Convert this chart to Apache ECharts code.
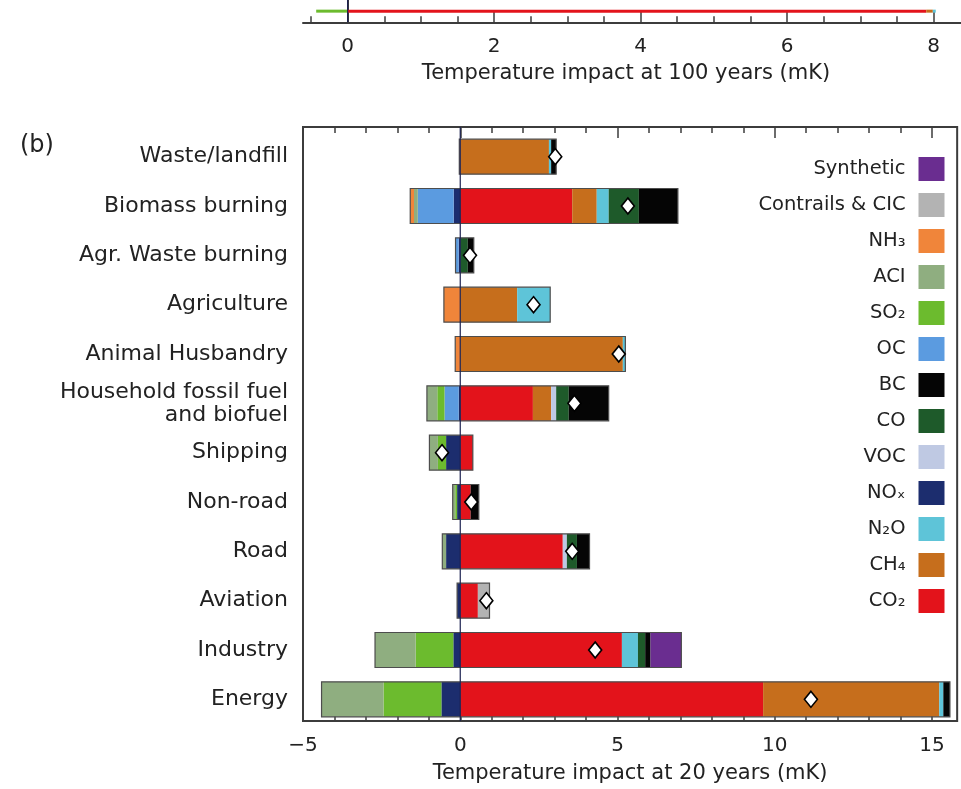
<!DOCTYPE html>
<html><head><meta charset="utf-8">
<script src="https://cdn.jsdelivr.net/npm/echarts@6/dist/echarts.min.js"></script>
<style>html,body{margin:0;padding:0;background:#fff}#c{width:961px;height:789px}</style>
</head><body><div id="c"></div>
<script>
// ---------- data ----------
const categories = ['Waste/landfill','Biomass burning','Agr. Waste burning','Agriculture','Animal Husbandry','Household fossil fuel\nand biofuel','Shipping','Non-road','Road','Aviation','Industry','Energy'];
// positive contributions (mK, 20-year)
const CO2       = [0, 3.56, 0, 0, 0, 2.31, 0.40, 0.33, 3.26, 0.56, 5.14, 9.63];
const CH4       = [2.82, 0.78, 0, 1.81, 5.17, 0.58, 0, 0, 0, 0, 0, 5.60];
const N2O       = [0.07, 0.38, 0, 1.05, 0.08, 0, 0, 0, 0, 0, 0.51, 0.13];
const VOC       = [0, 0, 0, 0, 0, 0.16, 0, 0, 0.13, 0, 0, 0];
const CO        = [0, 0.96, 0.24, 0, 0, 0.40, 0, 0, 0.32, 0, 0.23, 0];
const BC        = [0.16, 1.24, 0.19, 0, 0, 1.27, 0, 0.26, 0.40, 0, 0.17, 0.21];
const Contrails = [0, 0, 0, 0, 0, 0, 0, 0, 0, 0.37, 0, 0];
const Synthetic = [0, 0, 0, 0, 0, 0, 0, 0, 0, 0, 0.98, 0];
// negative contributions
const NOx = [0, -0.21, -0.05, 0, 0, -0.05, -0.45, -0.10, -0.45, -0.10, -0.22, -0.60];
const OC  = [0, -1.14, -0.10, 0, 0, -0.45, 0, 0, 0, 0, 0, 0];
const SO2 = [0, 0, 0, 0, 0, -0.23, -0.26, -0.06, 0, 0, -1.20, -1.84];
const ACI = [0, -0.12, 0, 0, 0, -0.33, -0.27, -0.08, -0.12, 0, -1.29, -1.97];
const NH3 = [-0.03, -0.12, 0, -0.52, -0.16, 0, 0, 0, 0, 0, 0, 0];
// net (diamonds)
const net20 = [3.02, 5.33, 0.31, 2.33, 5.04, 3.63, -0.58, 0.35, 3.56, 0.83, 4.29, 11.15];

// panel (a) remnant (100-year)
const panelACategories = ['Energy'];
const aSO2 = [-0.43], aCO2 = [7.90], aCH4 = [0.09], aN2O = [0.04];

// tick labels
const ticks20 = [-5, 0, 5, 10, 15];
const minor20 = [-4, -3, -2, -1, 1, 2, 3, 4, 6, 7, 8, 9, 11, 12, 13, 14];
const ticks100 = [0, 2, 4, 6, 8];
const minor100 = [-0.5, 0.5, 1, 1.5, 2.5, 3, 3.5, 4.5, 5, 5.5, 6.5, 7, 7.5];

const legendOrder = ['Synthetic','Contrails & CIC','NH₃','ACI','SO₂','OC','BC','CO','VOC','NOₓ','N₂O','CH₄','CO₂'];
const colors = {
  'CO₂':'#e3131b','CH₄':'#c66e1c','N₂O':'#5ec4d8','VOC':'#bfc9e3','CO':'#1e5a2a','BC':'#050505',
  'Contrails & CIC':'#b3b3b3','Synthetic':'#6a2d90','NOₓ':'#1c2d6e','OC':'#5b9be0','SO₂':'#6cbb2e',
  'ACI':'#8fae80','NH₃':'#f0853a'
};
// stacking order (outward from zero)
const stackSeries = [
  ['CO₂', CO2], ['CH₄', CH4], ['N₂O', N2O], ['VOC', VOC], ['CO', CO], ['BC', BC],
  ['Contrails & CIC', Contrails], ['Synthetic', Synthetic],
  ['NOₓ', NOx], ['OC', OC], ['SO₂', SO2], ['ACI', ACI], ['NH₃', NH3]
];

// ---------- chart ----------
const FONT = 'DejaVu Sans';
const TXT = '#222';
const chart = echarts.init(document.getElementById('c'), null, {renderer:'canvas'});

const negSum = categories.map((_, i) => stackSeries.reduce((s, d) => s + Math.min(0, d[1][i]), 0));
const posSum = categories.map((_, i) => stackSeries.reduce((s, d) => s + Math.max(0, d[1][i]), 0));

const series = [];
// panel (a) bars
[['SO₂', aSO2], ['CO₂', aCO2], ['CH₄', aCH4], ['N₂O', aN2O]].forEach(([n, d]) => {
  series.push({type:'bar', name:n, stack:'a', xAxisIndex:0, yAxisIndex:0, data:d, barWidth:3,
    itemStyle:{color:colors[n]}, silent:true, z:2});
});
// panel (a) zero line
series.push({type:'line', xAxisIndex:0, yAxisIndex:1, data:[[0,0],[0,1]], symbol:'none',
  lineStyle:{color:'#1a2050', width:1.2}, silent:true, z:10});
// panel (b) stacked bars
stackSeries.forEach(([n, d]) => {
  series.push({type:'bar', name:n, stack:'b', xAxisIndex:6, yAxisIndex:3, data:d, barWidth:35,
    itemStyle:{color:colors[n]}, silent:true, z:2});
});
// outline
series.push({type:'custom', xAxisIndex:6, yAxisIndex:3, silent:true, z:3,
  data: categories.map((_, i) => [i, negSum[i], posSum[i]]),
  encode:{x:[1,2], y:0},
  renderItem: function(params, api){
    const c = api.value(0);
    const p0 = api.coord([api.value(1), c]);
    const p1 = api.coord([api.value(2), c]);
    const h = 35;
    return {type:'rect', shape:{x:p0[0], y:p0[1]-h/2, width:p1[0]-p0[0], height:h},
      style:{fill:'none', stroke:'#4d4d4d', lineWidth:1.2}};
  }
});
// panel (b) zero line
series.push({type:'line', xAxisIndex:2, yAxisIndex:2, data:[[0,0],[0,1]], symbol:'none',
  lineStyle:{color:'#1a2050', width:1.2}, silent:true, z:10});
// net diamonds
series.push({type:'scatter', xAxisIndex:6, yAxisIndex:3, symbol:'diamond', symbolSize:[13,16],
  data: net20.map((v, i) => [v, i]),
  itemStyle:{color:'#fff', borderColor:'#000', borderWidth:1.6, opacity:1}, silent:true, z:12});

const A_UNIT = 74.35, A_LEFT = 303, A_W = 668;
const B_UNIT = 31.45, B_LEFT = 303, B_W = 20.8 * B_UNIT;

const option = {
  backgroundColor:'#fff',
  animation:false,
  textStyle:{fontFamily:FONT},
  graphic:[{type:'text', left:20, top:134, style:{text:'(b)', font:'24px "DejaVu Sans"', fill:TXT}}],
  legend:{
    data: legendOrder, orient:'vertical', right:11.5, top:152, itemWidth:26, itemHeight:24, itemGap:12,
    align:'right', icon:'rect', selectedMode:false,
    textStyle:{fontSize:19.5, color:TXT, fontFamily:FONT, padding:[0,8,0,0]}
  },
  grid:[
    {left:A_LEFT, top:0, width:A_W, height:22.3, show:false},
    {left:B_LEFT, top:127, width:B_W, height:601, show:true, borderColor:'#3c3c3c', borderWidth:2, backgroundColor:'transparent'},
    {left:B_LEFT, top:132, width:B_W, height:592, show:false}
  ],
  xAxis:[
    // 0: panel a main
    {type:'value', gridIndex:0, min:-0.61, max:-0.61 + A_W / A_UNIT, position:'bottom',
      axisLine:{show:true, lineStyle:{color:'#3c3c3c', width:2}},
      axisTick:{show:true, inside:true, length:11, customValues:ticks100, lineStyle:{color:'#3c3c3c', width:1.5}},
      axisLabel:{show:true, customValues:ticks100, fontSize:20, color:TXT, margin:14, fontFamily:FONT},
      splitLine:{show:false},
      name:'Temperature impact at 100 years (mK)', nameLocation:'middle', nameGap:41,
      nameTextStyle:{fontSize:21, color:TXT, fontFamily:FONT, padding:[0,12,0,0]}},
    // 1: panel a minor
    {type:'value', gridIndex:0, min:-0.61, max:-0.61 + A_W / A_UNIT, position:'bottom',
      axisLine:{show:false}, axisLabel:{show:false}, splitLine:{show:false},
      axisTick:{show:true, inside:true, length:6, customValues:minor100, lineStyle:{color:'#3c3c3c', width:1.5}}},
    // 2: panel b main bottom
    {type:'value', gridIndex:1, min:-5, max:15.8, position:'bottom',
      axisLine:{show:false},
      axisTick:{show:true, inside:true, length:11, customValues:ticks20, lineStyle:{color:'#3c3c3c', width:1.5}},
      axisLabel:{show:true, customValues:ticks20, fontSize:20, color:TXT, margin:15, fontFamily:FONT,
        formatter: v => (v < 0 ? '\u2212' + Math.abs(v) : String(v))},
      splitLine:{show:false},
      name:'Temperature impact at 20 years (mK)', nameLocation:'middle', nameGap:42,
      nameTextStyle:{fontSize:21, color:TXT, fontFamily:FONT}},
    // 3: panel b minor bottom
    {type:'value', gridIndex:1, min:-5, max:15.8, position:'bottom',
      axisLine:{show:false}, axisLabel:{show:false}, splitLine:{show:false},
      axisTick:{show:true, inside:true, length:6, customValues:minor20, lineStyle:{color:'#3c3c3c', width:1.5}}},
    // 4: panel b top major
    {type:'value', gridIndex:1, min:-5, max:15.8, position:'top',
      axisLine:{show:false}, axisLabel:{show:false}, splitLine:{show:false},
      axisTick:{show:true, inside:true, length:11, customValues:ticks20, lineStyle:{color:'#3c3c3c', width:1.5}}},
    // 5: panel b top minor
    {type:'value', gridIndex:1, min:-5, max:15.8, position:'top',
      axisLine:{show:false}, axisLabel:{show:false}, splitLine:{show:false},
      axisTick:{show:true, inside:true, length:6, customValues:minor20, lineStyle:{color:'#3c3c3c', width:1.5}}},
    // 6: bars
    {type:'value', gridIndex:2, min:-5, max:15.8, show:false}
  ],
  yAxis:[
    {type:'category', gridIndex:0, data:panelACategories, position:'left',
      axisLine:{show:true, lineStyle:{color:'#3c3c3c', width:2}}, axisTick:{show:false}, axisLabel:{show:false}},
    {type:'value', gridIndex:0, min:0, max:1, show:false},
    {type:'value', gridIndex:1, min:0, max:1, show:false},
    {type:'category', gridIndex:2, data:categories, inverse:true,
      axisLine:{show:false}, axisTick:{show:false}, splitLine:{show:false},
      axisLabel:{show:true, fontSize:22, color:TXT, margin:15, fontFamily:FONT, lineHeight:23, align:'right'}}
  ],
  series: series
};
chart.setOption(option);
</script>
</body></html>
